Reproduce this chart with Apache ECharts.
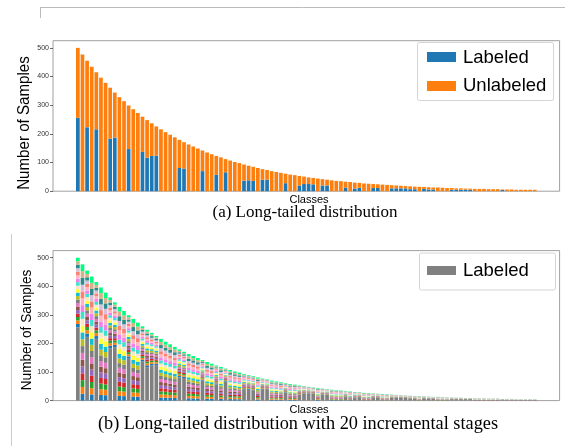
<!DOCTYPE html>
<html>
<head>
<meta charset="utf-8">
<script src="https://cdn.jsdelivr.net/npm/echarts@6/dist/echarts.min.js"></script>
<style>html,body{margin:0;padding:0;background:#fff}#c{width:565px;height:446px}</style>
</head>
<body>
<div id="c"></div>
<script>
// ---- data ----
const classIndex = Array.from({length: 100}, (_, i) => String(i)); // class ids 0..99
const totalSamples = [
  500, 477, 455, 434, 415, 396, 378, 361, 344, 328,
  314, 299, 286, 273, 260, 248, 237, 226, 216, 206,
  197, 188, 179, 171, 163, 156, 149, 142, 135, 129,
  123, 118, 112, 107, 102, 98, 93, 89, 85, 81,
  77, 74, 70, 67, 64, 61, 58, 56, 53, 51,
  48, 46, 44, 42, 40, 38, 36, 35, 33, 32,
  30, 29, 27, 26, 25, 24, 23, 22, 21, 20,
  19, 18, 17, 16, 15, 15, 14, 13, 13, 12,
  11, 11, 10, 10, 9, 9, 8, 8, 8, 7,
  7, 7, 6, 6, 6, 5, 5, 5, 5, 5
];
const labeledSamples = [
  256, 0, 223, 0, 216, 0, 0, 183, 187, 0,
  0, 147, 0, 0, 137, 117, 123, 124, 0, 0,
  0, 0, 81, 79, 0, 0, 0, 70, 0, 0,
  57, 0, 66, 0, 0, 0, 37, 38, 36, 0,
  40, 40, 0, 0, 0, 28, 0, 0, 20, 25,
  25, 24, 0, 20, 20, 0, 0, 0, 13, 0,
  9, 12, 0, 0, 11, 11, 0, 0, 10, 10,
  10, 10, 7, 7, 0, 8, 6, 6, 0, 0,
  0, 5, 5, 5, 5, 5, 0, 0, 0, 0,
  0, 0, 4, 0, 0, 0, 0, 0, 0, 0
];
const yTicks = [0, 100, 200, 300, 400, 500];
const stageCount = 20;
const stageColors = [
  '#1f77b4', '#ff7f0e', '#2ca02c', '#d62728', '#9467bd',
  '#8c564b', '#e377c2', '#7f7f7f', '#bcbd22', '#17becf',
  '#ffff33', '#fbe7c6', '#40e0d0', '#ee82ee', '#ffb6c1',
  '#fa8072', '#d8bfd8', '#2e8b8b', '#d2b48c', '#00ff7f'
];

// ---- build options ----
const chart = echarts.init(document.getElementById('c'), null, {renderer: 'canvas'});
const unlabeled = totalSamples.map((t, i) => t - labeledSamples[i]);
const BW = 3.7;
const SANS = '"Liberation Sans", Arial, Helvetica, sans-serif';
const SERIF = '"Liberation Serif", "Times New Roman", serif';

const FRAME_L = 53, FRAME_W = 506.6;
const BAND = FRAME_W / 109.78;
const BAR_L = FRAME_L + (5.39 - 0.5) * BAND;
const BAR_W = BAND * 100;

function frameX(gi) {
  return {gridIndex: gi, type: 'value', min: 0, max: 1,
    axisLine: {show: false}, axisTick: {show: false}, axisLabel: {show: false}, splitLine: {show: false}};
}
function frameY(gi) {
  return {gridIndex: gi, type: 'value', min: 0, max: 525,
    axisLine: {show: false},
    axisTick: {show: true, length: 3, customValues: yTicks, lineStyle: {color: '#444', width: 0.8}},
    axisLabel: {show: true, customValues: yTicks, fontSize: 7, color: '#333', margin: 4, fontFamily: SANS},
    splitLine: {show: false}};
}
function barX(gi) {
  return {gridIndex: gi, type: 'category', data: classIndex, boundaryGap: true,
    axisLine: {show: false}, axisTick: {show: false}, axisLabel: {show: false}, splitLine: {show: false}};
}
function barY(gi) {
  return {gridIndex: gi, type: 'value', min: 0, max: 525, show: false, splitLine: {show: false}};
}

const series = [
  {name: 'Labeled', type: 'bar', xAxisIndex: 2, yAxisIndex: 2, stack: 'a', barWidth: BW,
   data: labeledSamples, itemStyle: {color: '#1f77b4'}, silent: true},
  {name: 'Unlabeled', type: 'bar', xAxisIndex: 2, yAxisIndex: 2, stack: 'a', barWidth: BW,
   data: unlabeled, itemStyle: {color: '#ff7f0e'}, silent: true},
  {name: 'Labeled (b)', type: 'bar', xAxisIndex: 3, yAxisIndex: 3, stack: 'b', barWidth: BW,
   data: labeledSamples, itemStyle: {color: '#808080'}, silent: true}
];
for (let s = 0; s < stageCount; s++) {
  series.push({name: 'Stage ' + (s + 1), type: 'bar', xAxisIndex: 3, yAxisIndex: 3, stack: 'b', barWidth: BW,
    data: unlabeled.map(u => u / stageCount), itemStyle: {color: stageColors[s]}, silent: true});
}

const txt = (x, y, text, font, align) => ({type: 'text', x, y, z: 11,
  style: {text, font, fill: '#000', textAlign: align || 'center', textVerticalAlign: 'middle'}});

const graphic = [
  {type: 'line', shape: {x1: 40, y1: 7.5, x2: 565, y2: 7.5}, style: {stroke: '#bbb', lineWidth: 1}},
  {type: 'line', shape: {x1: 40.5, y1: 7, x2: 40.5, y2: 18}, style: {stroke: '#bbb', lineWidth: 1}},
  {type: 'line', shape: {x1: 11.5, y1: 234, x2: 11.5, y2: 446}, style: {stroke: '#ccc', lineWidth: 1}},
  Object.assign(txt(24, 123, 'Number of Samples', '17px ' + SANS), {rotation: Math.PI / 2, scaleX: 0.89}),
  Object.assign(txt(27, 330, 'Number of Samples', '15px ' + SANS), {rotation: Math.PI / 2, scaleX: 0.91}),
  txt(309, 200, 'Classes', '11px ' + SANS),
  txt(309, 410, 'Classes', '11px ' + SANS),
  txt(305, 213, '(a) Long-tailed distribution', '17px ' + SERIF),
  txt(298, 424, '(b) Long-tailed distribution with 20 incremental stages', '18.3px ' + SERIF),
  {type: 'rect', z: 10, shape: {x: 417.5, y: 42.5, width: 136, height: 58, r: 2}, style: {fill: '#fff', stroke: '#d5d5d5', lineWidth: 1}},
  {type: 'rect', z: 11, shape: {x: 427, y: 52, width: 29, height: 10}, style: {fill: '#1f77b4'}},
  {type: 'rect', z: 11, shape: {x: 427, y: 81, width: 29, height: 10}, style: {fill: '#ff7f0e'}},
  txt(463, 58, 'Labeled', '18.5px ' + SANS, 'left'),
  txt(463, 86, 'Unlabeled', '18.5px ' + SANS, 'left'),
  {type: 'rect', z: 10, shape: {x: 419.5, y: 253, width: 136, height: 37, r: 2}, style: {fill: '#fff', stroke: '#d5d5d5', lineWidth: 1}},
  {type: 'rect', z: 11, shape: {x: 427, y: 266, width: 29, height: 9}, style: {fill: '#808080'}},
  txt(463, 271, 'Labeled', '18.5px ' + SANS, 'left')
];

chart.setOption({
  animation: false,
  backgroundColor: '#fff',
  grid: [
    {left: FRAME_L, top: 40.7, width: FRAME_W, height: 150.5, show: true, borderColor: '#a0a0a0', borderWidth: 1},
    {left: FRAME_L, top: 250.6, width: FRAME_W, height: 150.0, show: true, borderColor: '#a0a0a0', borderWidth: 1},
    {left: BAR_L, top: 40.7, width: BAR_W, height: 150.5},
    {left: BAR_L, top: 250.6, width: BAR_W, height: 150.0}
  ],
  xAxis: [frameX(0), frameX(1), barX(2), barX(3)],
  yAxis: [frameY(0), frameY(1), barY(2), barY(3)],
  series,
  graphic
});
</script>
</body>
</html>
